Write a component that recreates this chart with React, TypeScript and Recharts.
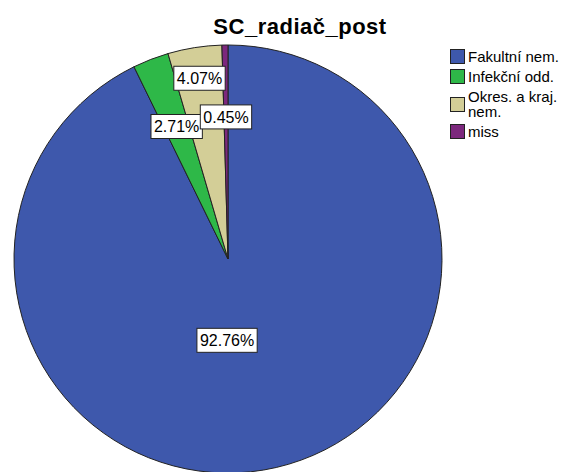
import React from 'react';
import { PieChart, Pie, Cell, Legend } from 'recharts';

// SC_radiač_post, N = 221
const categories = ['Fakultní nem.', 'Infekční odd.', 'Okres. a kraj. nem.', 'miss'];
const counts = [205, 6, 9, 1];
const sliceColors = ['#3E58AC', '#2EB848', '#D3CE97', '#7C287D'];

// where each label box sits: fraction of radius, plus a small angle nudge
const labelPlacement = [
	{ r: 0.38, nudge: -13.7 },
	{ r: 0.664, nudge: 0 },
	{ r: 0.855, nudge: 0 },
	{ r: 0.664, nudge: 0 },
];

const data = categories.map((name, i) => ({ name, value: counts[i] }));

const FONT = '"Liberation Sans", Arial, sans-serif';
const RADIAN = Math.PI / 180;

const charW = (c) => {
	if (c === '.') return 0.278;
	if (c === '%') return 0.889;
	return 0.556;
};

const renderLabel = (props) => {
	const { cx, cy, midAngle, outerRadius, percent, index } = props;
	const place = labelPlacement[index];
	const angle = (midAngle + place.nudge) * RADIAN;
	const rr = outerRadius * place.r;
	const x = cx + rr * Math.cos(angle);
	const y = cy - rr * Math.sin(angle);
	const txt = (percent * 100).toFixed(2) + '%';
	const fs = 16;
	const tw = txt.split('').reduce((s, c) => s + charW(c), 0) * fs;
	const w = tw + 6;
	const h = 24;
	return (
		<g key={`lbl-${index}`}>
			<rect
				x={x - w / 2}
				y={y - h / 2}
				width={w}
				height={h}
				fill="#fff"
				stroke="#222"
				strokeWidth={1}
			/>
			<text
				x={x}
				y={y}
				dy={6}
				textAnchor="middle"
				fontFamily={FONT}
				fontSize={fs}
				fill="#000"
			>
				{txt}
			</text>
		</g>
	);
};

const renderLegend = (props) => {
	const { payload } = props;
	return (
		<div style={{ fontFamily: FONT, fontSize: 15, color: '#000' }}>
			{(payload || []).map((entry, i) => (
				<div
					key={`leg-${i}`}
					style={{
						display: 'flex',
						alignItems: 'center',
						marginBottom: 5,
						lineHeight: '15px',
					}}
				>
					<div
						style={{
							width: 13,
							height: 13,
							border: '1px solid #222',
							background: sliceColors[categories.indexOf(entry.value)],
							flexShrink: 0,
						}}
					/>
					<span style={{ marginLeft: 3, width: 94 }}>{entry.value}</span>
				</div>
			))}
		</div>
	);
};

export default function App() {
	return (
		<div style={{ position: 'absolute', left: 0, top: 0, width: 562, height: 472 }}>
			<div
				style={{
					position: 'absolute',
					left: 200,
					top: 16,
					width: 200,
					textAlign: 'center',
					fontFamily: FONT,
					fontWeight: 'bold',
					fontSize: 22,
					letterSpacing: 0.5,
					lineHeight: '22px',
					whiteSpace: 'nowrap',
					zIndex: 2,
				}}
			>
				SC_radiač_post
			</div>
			<PieChart
				width={562}
				height={472}
				margin={{ top: 0, right: 0, bottom: 0, left: 0 }}
			>
				<Pie
					data={data}
					dataKey="value"
					nameKey="name"
					cx={228}
					cy={259}
					outerRadius={214}
					startAngle={90}
					endAngle={-270}
					stroke="#222"
					strokeWidth={1}
					label={renderLabel}
					labelLine={false}
					isAnimationActive={false}
				>
					{data.map((entry, index) => (
						<Cell key={`cell-${index}`} fill={sliceColors[index]} />
					))}
				</Pie>
				<Legend
					layout="vertical"
					align="right"
					verticalAlign="top"
					content={renderLegend}
					wrapperStyle={{ left: 450, top: 49, width: 112 }}
				/>
			</PieChart>
		</div>
	);
}
